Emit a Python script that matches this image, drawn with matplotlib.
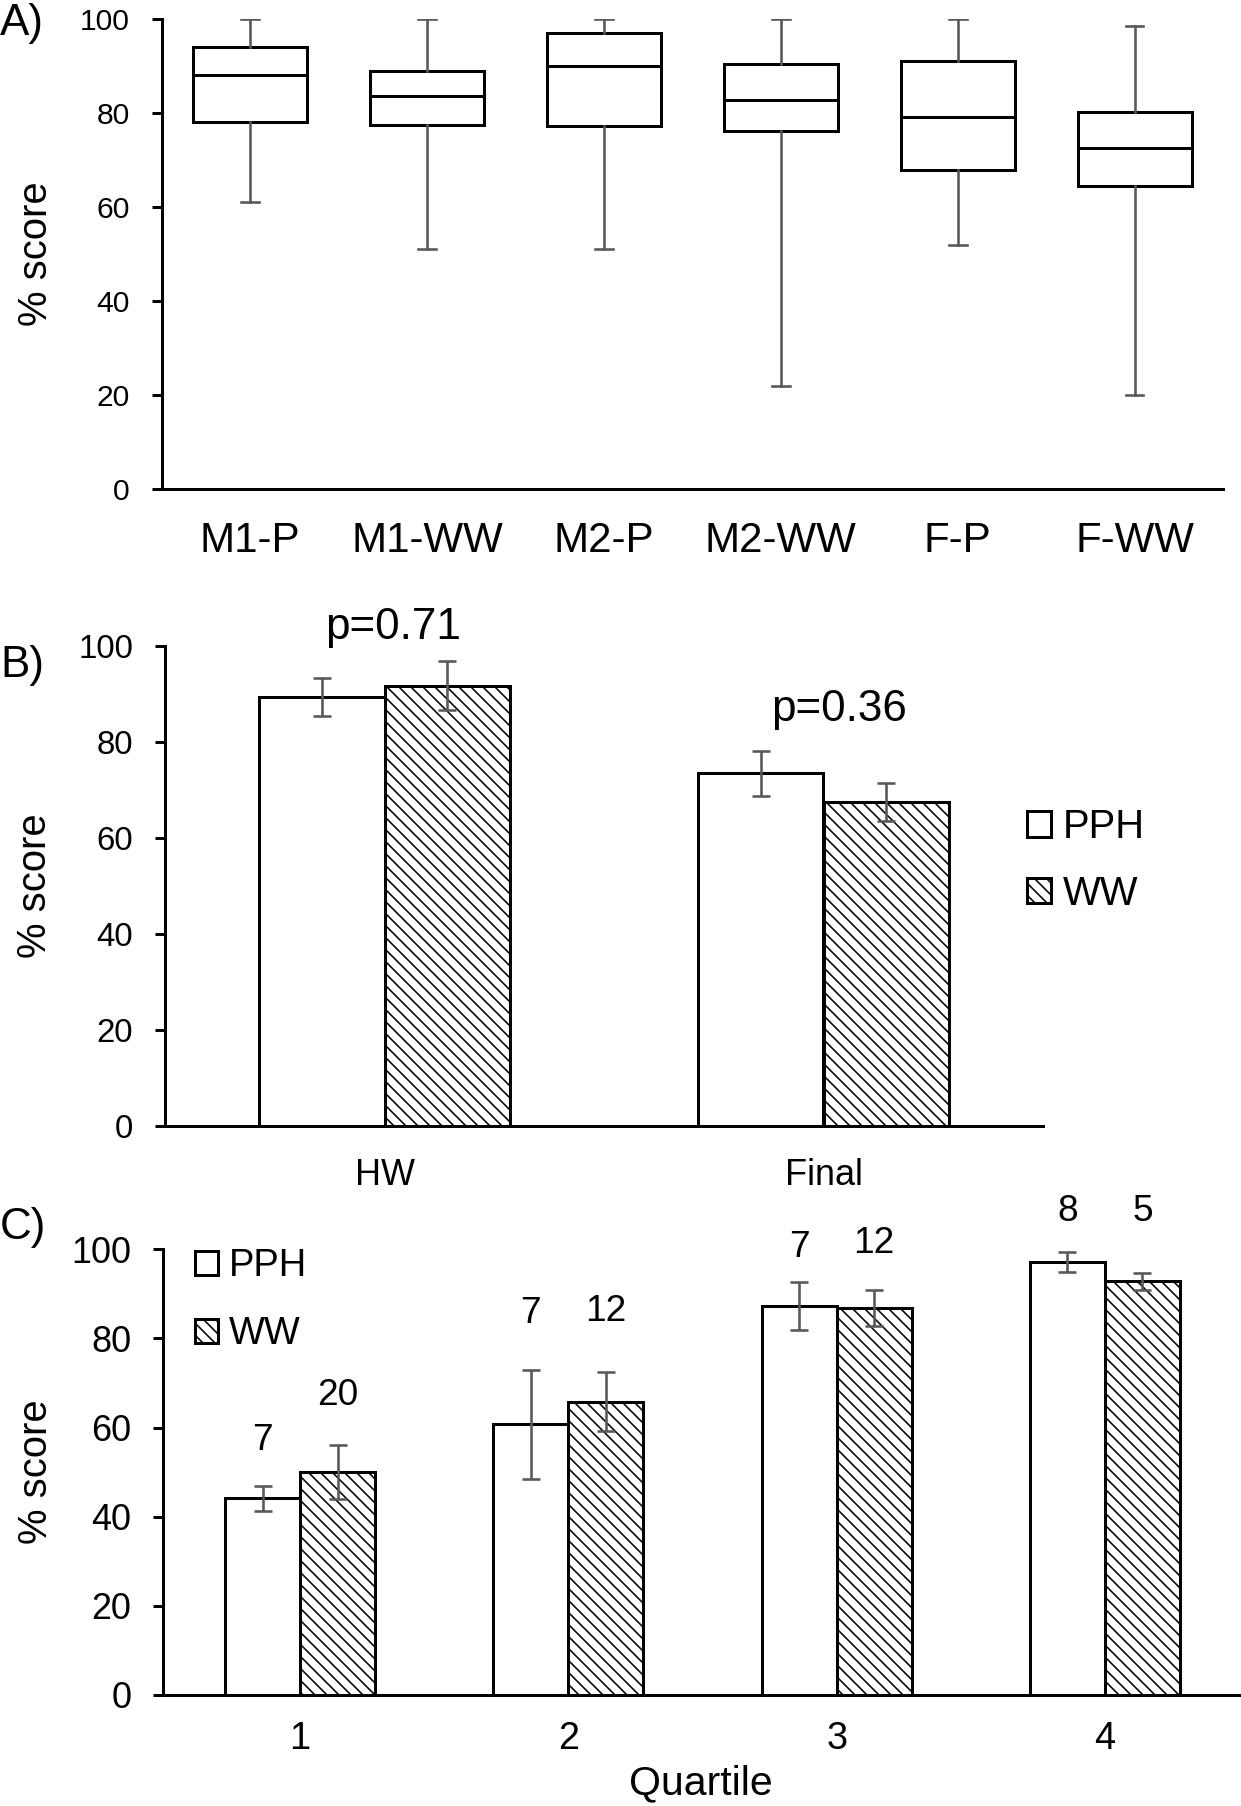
import matplotlib
matplotlib.use("Agg")
import matplotlib.pyplot as plt
import numpy as np

# A 72 dpi un punto = un pixel: tamaños de letra y grosores en pixeles
plt.rcParams['font.family'] = ['Liberation Sans', 'DejaVu Sans']
plt.rcParams['hatch.linewidth'] = 1.6

# ---------- datos panel A (boxplot) ----------
grupos_a = ["M1-P", "M1-WW", "M2-P", "M2-WW", "F-P", "F-WW"]
bigote_min = [61, 51, 51, 22, 52, 20]
cuartil_1 = [78.2, 77.5, 77.2, 76.2, 67.9, 64.6]
mediana = [88.1, 83.6, 90.1, 82.9, 79.1, 72.6]
cuartil_3 = [94.2, 89.0, 97.0, 90.5, 91.1, 80.2]
bigote_max = [100, 100, 100, 100, 100, 98.6]

# ---------- datos panel B ----------
grupos_b = ["HW", "Final"]
pph_b = [89.3, 73.4]
pph_b_err = [4.0, 4.7]
ww_b = [91.7, 67.5]
ww_b_err = [5.1, 3.9]
p_valores = ["p=0.71", "p=0.36"]

# ---------- datos panel C ----------
cuartiles = [1, 2, 3, 4]
pph_c = [44.1, 60.7, 87.2, 97.2]
pph_c_err = [2.8, 12.2, 5.4, 2.3]
ww_c = [50.0, 65.8, 86.9, 92.8]
ww_c_err = [6.1, 6.6, 4.0, 1.9]
n_pph = [7, 7, 7, 8]
n_ww = [20, 12, 12, 5]
# altura de las etiquetas n
n_pph_y = [57, 85.5, 100.5, 108.5]
n_ww_y = [67.2, 86, 101.2, 108.5]

W, H = 1241, 1806
fig = plt.figure(figsize=(W / 72, H / 72), dpi=72)

def caja(x0, y0, x1, y1):
    # convierte pixeles (desde arriba) a fracciones de figura
    return [x0 / W, 1 - y1 / H, (x1 - x0) / W, (y1 - y0) / H]

ax_a = fig.add_axes(caja(161.7, 19.3, 1223, 489))
ax_b = fig.add_axes(caja(165, 645.7, 1043, 1126))
ax_c = fig.add_axes(caja(163.3, 1249.3, 1239, 1695))

gris = "#595959"
lw = 3
rayado = "\\\\"

def estilo(ax, size_y, size_x, pad_x):
    for s in ["top", "right"]:
        ax.spines[s].set_visible(False)
    for s in ["left", "bottom"]:
        ax.spines[s].set_linewidth(lw)
    ax.set_ylim(0, 100)
    ax.set_yticks([0, 20, 40, 60, 80, 100])
    ax.tick_params(axis="y", direction="out", length=10, width=lw,
                   labelsize=size_y, pad=22)
    ax.tick_params(axis="x", length=0, labelsize=size_x, pad=pad_x)

# ---------- Panel A ----------
stats = []
for i in range(len(grupos_a)):
    stats.append(dict(whislo=bigote_min[i], q1=cuartil_1[i], med=mediana[i],
                      q3=cuartil_3[i], whishi=bigote_max[i], fliers=[]))
ax_a.bxp(stats, positions=range(len(grupos_a)), widths=0.645, showfliers=False,
         patch_artist=True,
         boxprops=dict(facecolor="white", edgecolor="black", linewidth=lw),
         medianprops=dict(color="black", linewidth=lw),
         whiskerprops=dict(color=gris, linewidth=2.6),
         capprops=dict(color=gris, linewidth=2.6), capwidths=0.1)
ax_a.set_xlim(-0.5, 5.5)
ax_a.set_xticks(range(len(grupos_a)), grupos_a)
estilo(ax_a, 30, 42, 32)
ax_a.set_ylabel("% score", fontsize=40)
ax_a.yaxis.set_label_coords(-0.101, 0.5)

# ---------- Panel B ----------
xb = np.arange(len(grupos_b))
ancho_b = 0.286
ekw = dict(ecolor=gris, elinewidth=2.6, capsize=9, capthick=2.6)
ax_b.bar(xb - ancho_b / 2, pph_b, ancho_b, color="white", edgecolor="black",
         linewidth=lw, yerr=pph_b_err, error_kw=ekw, label="PPH")
ax_b.bar(xb + ancho_b / 2, ww_b, ancho_b, color="white", edgecolor="black",
         linewidth=lw, hatch=rayado, yerr=ww_b_err, error_kw=ekw, label="WW")
ax_b.set_xlim(-0.5, 1.5)
ax_b.set_xticks(xb, grupos_b)
estilo(ax_b, 33, 36, 32)
ax_b.set_ylabel("% score", fontsize=40)
ax_b.yaxis.set_label_coords(-0.126, 0.5)
ax_b.text(0.019, 103.7, p_valores[0], fontsize=44, ha="center", va="center")
ax_b.text(1.035, 86.8, p_valores[1], fontsize=44, ha="center", va="center")
ax_b.legend(loc="upper left", bbox_to_anchor=(1027 / W, 1 - 808 / H),
            bbox_transform=fig.transFigure, frameon=False, fontsize=40,
            handlelength=0.6, handleheight=0.6, handletextpad=0.3,
            labelspacing=0.72, borderpad=0, borderaxespad=0)

# ---------- Panel C ----------
xc = np.array(cuartiles)
ancho_c = 0.28
ax_c.bar(xc - ancho_c / 2, pph_c, ancho_c, color="white", edgecolor="black",
         linewidth=lw, yerr=pph_c_err, error_kw=ekw, label="PPH")
ax_c.bar(xc + ancho_c / 2, ww_c, ancho_c, color="white", edgecolor="black",
         linewidth=lw, hatch=rayado, yerr=ww_c_err, error_kw=ekw, label="WW")
for i in range(len(cuartiles)):
    ax_c.text(xc[i] - ancho_c / 2, n_pph_y[i], str(n_pph[i]), fontsize=37,
              ha="center", va="center")
    ax_c.text(xc[i] + ancho_c / 2, n_ww_y[i], str(n_ww[i]), fontsize=37,
              ha="center", va="center")
ax_c.set_xlim(0.49, 4.5)
ax_c.set_xticks(xc, [str(q) for q in cuartiles])
estilo(ax_c, 36, 38, 26)
ax_c.set_xlabel("Quartile", fontsize=41)
ax_c.xaxis.set_label_coords(0.5, -0.155)
ax_c.set_ylabel("% score", fontsize=40)
ax_c.yaxis.set_label_coords(-0.101, 0.5)
ax_c.legend(loc="upper left", bbox_to_anchor=(195 / W, 1 - 1248 / H),
            bbox_transform=fig.transFigure, frameon=False, fontsize=38,
            handlelength=0.6, handleheight=0.6, handletextpad=0.3,
            labelspacing=0.85, borderpad=0, borderaxespad=0)

# etiquetas de panel
fig.text(0.0, 1 - 23 / H, "A)", fontsize=44, ha="left", va="center")
fig.text(0.0, 1 - 666 / H, "B)", fontsize=44, ha="left", va="center")
fig.text(0.0, 1 - 1228 / H, "C)", fontsize=44, ha="left", va="center")

fig.savefig("out.png", dpi=72)
